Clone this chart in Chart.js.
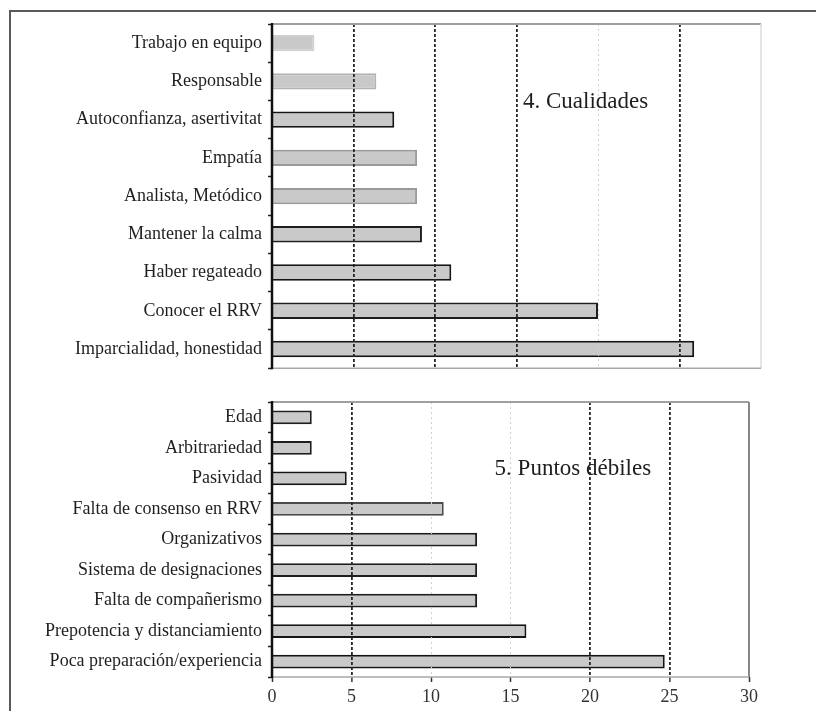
<!DOCTYPE html>
<html>
<head>
<meta charset="utf-8">
<script src="https://cdn.jsdelivr.net/npm/chart.js@4/dist/chart.umd.min.js"></script>
<style>
  html, body { margin: 0; padding: 0; background: #fff; }
  #wrap { position: relative; width: 816px; height: 711px; overflow: hidden; }
  #frame { position: absolute; left: 9px; top: 10px; width: 900px; height: 800px;
           border-top: 2px solid #5a5a5a; border-left: 2px solid #5a5a5a; box-sizing: border-box; }
  canvas { position: absolute; left: 0; }
</style>
</head>
<body>
<div id="wrap">
  <div id="frame"></div>
  <canvas id="c1" width="816" height="385" style="top:0;width:816px;height:385px"></canvas>
  <canvas id="c2" width="816" height="331" style="top:380px;width:816px;height:331px"></canvas>
</div>
<script>
// ---- data ----
const qualityLabels = ['Trabajo en equipo', 'Responsable', 'Autoconfianza, asertivitat', 'Empatía',
  'Analista, Metódico', 'Mantener la calma', 'Haber regateado', 'Conocer el RRV', 'Imparcialidad, honestidad'];
const qualityValues = [2.6, 6.4, 7.5, 8.9, 8.9, 9.2, 11.0, 20.0, 25.9];

const weakLabels = ['Edad', 'Arbitrariedad', 'Pasividad', 'Falta de consenso en RRV', 'Organizativos',
  'Sistema de designaciones', 'Falta de compañerismo', 'Prepotencia y distanciamiento', 'Poca preparación/experiencia'];
const weakValues = [2.5, 2.5, 4.7, 10.8, 12.9, 12.9, 12.9, 16.0, 24.7];

const xTickValues = [0, 5, 10, 15, 20, 25, 30];
const qualityTitle = '4. Cualidades';
const weakTitle = '5. Puntos débiles';

// ---- rendering ----
const SERIF = "'Liberation Serif', 'DejaVu Serif', serif";

const framePlugin = {
  id: 'frame',
  afterDraw(chart, args, opts) {
    const a = chart.chartArea, ctx = chart.ctx;
    ctx.save();
    const seg = (x1, y1, x2, y2, c, w) => {
      ctx.beginPath(); ctx.strokeStyle = c; ctx.lineWidth = w;
      ctx.moveTo(x1, y1); ctx.lineTo(x2, y2); ctx.stroke();
    };
    seg(a.left, a.top, a.right, a.top, opts.top, 2);
    seg(a.right, a.top, a.right, a.bottom, opts.right, opts.rightWidth || 1.5);
    seg(a.left, a.bottom, a.right, a.bottom, opts.bottom, 1.5);
    seg(a.left, a.top - 1, a.left, a.bottom + 1, opts.left, 2.5);
    // caption
    const xs = chart.scales.x, ys = chart.scales.y;
    ctx.fillStyle = '#1e1e1e';
    ctx.font = '23px ' + SERIF;
    ctx.textAlign = 'left';
    ctx.textBaseline = 'middle';
    ctx.fillText(opts.text, xs.getPixelForValue(opts.tx), ys.getPixelForValue(opts.ty));
    ctx.restore();
  }
};

function makeChart(id, labels, values, cfg) {
  return new Chart(document.getElementById(id), {
    type: 'bar',
    data: {
      labels: labels,
      datasets: [{
        data: values,
        backgroundColor: '#c9c9c9',
        borderColor: cfg.borderColors,
        borderWidth: 2,
        borderSkipped: 'start',
        categoryPercentage: 1,
        barPercentage: cfg.barPct
      }]
    },
    plugins: [framePlugin],
    options: {
      indexAxis: 'y',
      responsive: false,
      animation: false,
      events: [],
      layout: { padding: { top: cfg.padTop, right: cfg.padRight, left: 0, bottom: 0 } },
      plugins: {
        legend: { display: false },
        tooltip: { enabled: false },
        frame: cfg.frame
      },
      scales: {
        x: {
          type: 'linear',
          min: 0, max: 30,
          afterBuildTicks: s => { s.ticks = xTickValues.map(v => ({ value: v })); },
          afterFit: s => { s.height = cfg.xHeight; },
          border: {
            display: false,
            dash: ctx => (ctx.tick && cfg.darkGrid.includes(ctx.tick.value)) ? [3, 2] : [2, 3]
          },
          grid: {
            z: 1,
            drawTicks: cfg.showTicks,
            tickLength: 5,
            tickColor: '#333',
            tickWidth: 1.5,
            color: ctx => {
              const v = ctx.tick ? ctx.tick.value : -1;
              if (v === 0 || v === 30) return 'rgba(0,0,0,0)';
              return cfg.darkGrid.includes(v) ? '#262626' : '#d0d0d0';
            },
            lineWidth: ctx => (ctx.tick && cfg.darkGrid.includes(ctx.tick.value)) ? 1.8 : 1
          },
          ticks: {
            display: cfg.showTicks,
            color: '#333',
            padding: 4,
            font: { family: SERIF, size: 18 }
          }
        },
        y: {
          type: 'category',
          afterFit: s => { s.width = 272; },
          border: { display: false },
          grid: {
            offset: true,
            drawOnChartArea: false,
            drawTicks: true,
            tickLength: 4,
            tickColor: '#222',
            tickWidth: 1.5
          },
          ticks: {
            color: '#1e1e1e',
            padding: 6,
            font: { family: SERIF, size: 18 }
          }
        }
      }
    }
  });
}

makeChart('c1', qualityLabels, qualityValues, {
  borderColors: ['#cfcfcf', '#b4b4b4', '#151515', '#9a9a9a', '#9a9a9a', '#1e1e1e', '#151515', '#1e1e1e', '#151515'],
  barPct: 0.43,
  padTop: 24,
  padRight: 55,
  xHeight: 7,
  showTicks: false,
  darkGrid: [5, 10, 15, 25],
  frame: { top: '#a0a0a0', right: '#dddddd', bottom: '#a8a8a8', left: '#111', rightWidth: 1.5,
           text: qualityTitle, tx: 15.4, ty: 1.55 }
});

makeChart('c2', weakLabels, weakValues, {
  borderColors: ['#1e1e1e', '#1e1e1e', '#151515', '#4a4a4a', '#1e1e1e', '#1e1e1e', '#1e1e1e', '#151515', '#151515'],
  barPct: 0.45,
  padTop: 22,
  padRight: 67,
  xHeight: 34,
  showTicks: true,
  darkGrid: [5, 20, 25],
  frame: { top: '#a0a0a0', right: '#888888', bottom: '#a8a8a8', left: '#111', rightWidth: 2,
           text: weakTitle, tx: 14.0, ty: 1.7 }
});
</script>
</body>
</html>
